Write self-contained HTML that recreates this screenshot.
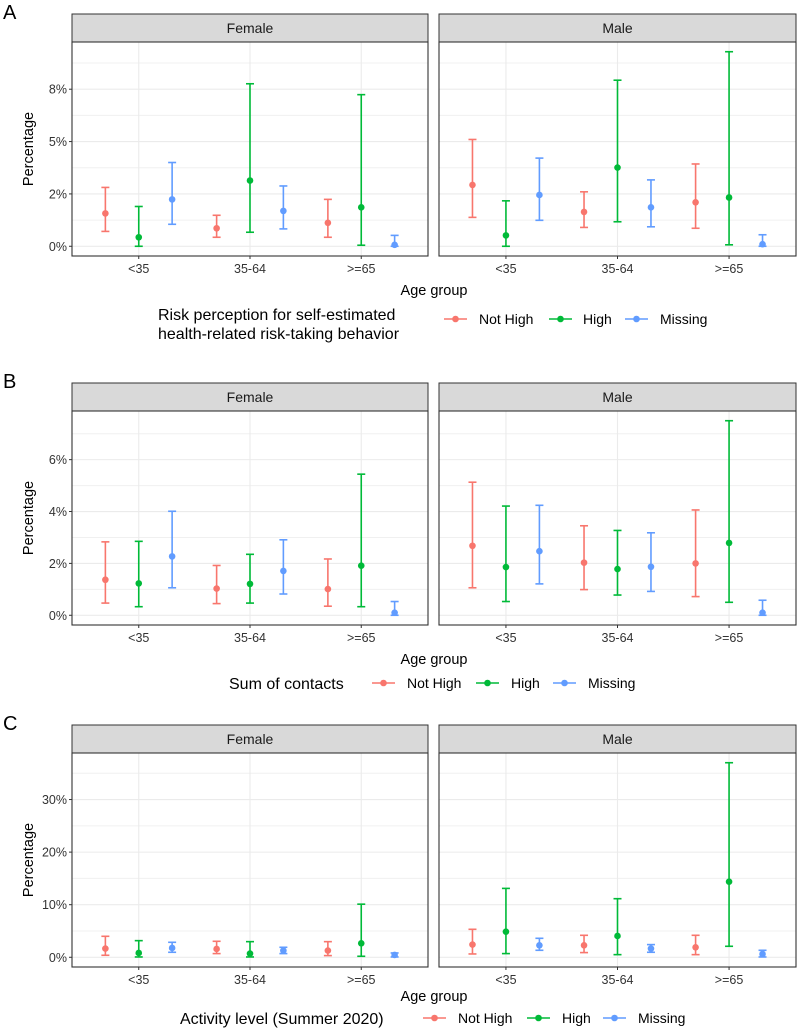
<!DOCTYPE html>
<html><head><meta charset="utf-8"><style>
html,body{margin:0;padding:0;background:#fff}
svg{display:block;font-family:"Liberation Sans",Arial,sans-serif}
</style></head><body>
<svg id="chart" width="797" height="1028" viewBox="0 0 797 1028" xmlns="http://www.w3.org/2000/svg"></svg>
<script>
const categories=["<35","35-64",">=65"];
const groups=["Not High","High","Missing"];
const colors=["#F8766D","#00BA38","#619CFF"];
// Panel A values [category][group]
const aFemalePt=[[1.57,0.43,2.24],[0.86,3.14,1.69],[1.12,1.86,0.07]];
const aFemaleLo=[[0.71,0,1.05],[0.43,0.67,0.83],[0.43,0.05,0]];
const aFemaleHi=[[2.81,1.9,4.0],[1.48,7.76,2.88],[2.24,7.24,0.52]];
const aMalePt=[[2.93,0.52,2.45],[1.64,3.76,1.86],[2.1,2.33,0.1]];
const aMaleLo=[[1.38,0,1.24],[0.9,1.17,0.93],[0.86,0.07,0]];
const aMaleHi=[[5.1,2.17,4.21],[2.6,7.93,3.17],[3.93,9.29,0.55]];
const aTicks=[0,2.5,5,7.5];
const aTickLabels=["0%","2%","5%","8%"];
// Panel B
const bFemalePt=[[1.37,1.23,2.27],[1.03,1.21,1.71],[1.01,1.91,0.1]];
const bFemaleLo=[[0.47,0.33,1.06],[0.45,0.47,0.82],[0.35,0.33,0]];
const bFemaleHi=[[2.83,2.85,4.01],[1.92,2.35,2.91],[2.17,5.44,0.53]];
const bMalePt=[[2.68,1.86,2.47],[2.03,1.78,1.87],[2.0,2.79,0.1]];
const bMaleLo=[[1.06,0.53,1.21],[0.99,0.78,0.92],[0.72,0.5,0]];
const bMaleHi=[[5.13,4.21,4.24],[3.45,3.27,3.18],[4.06,7.5,0.58]];
const bTicks=[0,2,4,6];
const bTickLabels=["0%","2%","4%","6%"];
// Panel C
const cFemalePt=[[1.65,0.82,1.77],[1.58,0.7,1.27],[1.27,2.66,0.44]];
const cFemaleLo=[[0.38,0.06,0.95],[0.7,0.06,0.7],[0.32,0.19,0.06]];
const cFemaleHi=[[3.99,3.16,2.85],[3.04,2.97,1.9],[2.97,10.1,0.82]];
const cMalePt=[[2.41,4.87,2.28],[2.28,4.05,1.65],[1.9,14.37,0.63]];
const cMaleLo=[[0.63,0.7,1.33],[0.89,0.5,0.95],[0.5,2.09,0.06]];
const cMaleHi=[[5.32,13.1,3.61],[4.18,11.14,2.41],[4.18,37.0,1.33]];
const cTicks=[0,10,20,30];
const cTickLabels=["0%","10%","20%","30%"];

const NS="http://www.w3.org/2000/svg";
const svg=document.getElementById('chart');
function mk(tag,attrs,parent,text){const e=document.createElementNS(NS,tag);for(const k in attrs)e.setAttribute(k,attrs[k]);if(text!==undefined)e.textContent=text;(parent||svg).appendChild(e);return e;}

const panels=[
 {key:"a",label:"A",top:14,f:[aFemalePt,aFemaleLo,aFemaleHi],m:[aMalePt,aMaleLo,aMaleHi],ticks:aTicks,tl:aTickLabels,
  leg:{y:319,title:["Risk perception for self-estimated","health-related risk-taking behavior"],tx:158,keys:[444,549,625],labs:[479,583,660]}},
 {key:"b",label:"B",top:383,f:[bFemalePt,bFemaleLo,bFemaleHi],m:[bMalePt,bMaleLo,bMaleHi],ticks:bTicks,tl:bTickLabels,
  leg:{y:683,title:["Sum of contacts"],tx:229,keys:[372,476,553],labs:[407,511,588]}},
 {key:"c",label:"C",top:725,f:[cFemalePt,cFemaleLo,cFemaleHi],m:[cMalePt,cMaleLo,cMaleHi],ticks:cTicks,tl:cTickLabels,
  leg:{y:1018,title:["Activity level (Summer 2020)"],tx:180,keys:[423,527,603],labs:[458,562,638]}}
];
const facets=[{name:"Female",x0:72,x1:428},{name:"Male",x0:439,x1:796}];

panels.forEach(p=>{
  const g=mk('g',{});
  
  
  const lab=mk('text',{x:3,y:p.top+5,'font-size':20,fill:'#000'},g,p.label);
  
  
  const stripTop=p.top, plotTop=p.top+28, plotBot=p.top+242;
  let maxHi=0;[p.f[2],p.m[2]].forEach(a=>a.forEach(r=>r.forEach(v=>{if(v>maxHi)maxHi=v;})));
  const ymin=-0.05*maxHi, ymax=maxHi*1.05;
  const y=v=>plotBot-(v-ymin)/(ymax-ymin)*(plotBot-plotTop);
  facets.forEach((fc,fi)=>{
    const data=fi===0?p.f:p.m;
    const w=fc.x1-fc.x0, unit=w/3.2;
    const x=i=>fc.x0+(i+1-0.4)*unit;
    const fg=mk('g',{},g);
    
    
    const st=mk('rect',{x:fc.x0,y:stripTop,width:w,height:28,fill:'#D9D9D9',stroke:'#333','stroke-width':1},fg);
    
    
    const stt=mk('text',{x:(fc.x0+fc.x1)/2,y:stripTop+19,'text-anchor':'middle','font-size':14,fill:'#1A1A1A'},fg,fc.name);
    
    
    for(let i=0;i<p.ticks.length;i++){
      const step=p.ticks[1]-p.ticks[0];const mv=p.ticks[i]+step/2;
      if(mv<ymax){const ml=mk('line',{x1:fc.x0,x2:fc.x1,y1:y(mv),y2:y(mv),stroke:'#F0F0F0','stroke-width':1},fg);
        }
    }
    p.ticks.forEach((t,ti)=>{
      const gl=mk('line',{x1:fc.x0,x2:fc.x1,y1:y(t),y2:y(t),stroke:'#EBEBEB','stroke-width':1.1},fg);
      
      if(fi===0){
        const tk=mk('line',{x1:fc.x0-3,x2:fc.x0,y1:y(t),y2:y(t),stroke:'#333','stroke-width':1},fg);
        
        const tt=mk('text',{x:fc.x0-5,y:y(t)+4.5,'text-anchor':'end','font-size':12.5,fill:'#333'},fg,p.tl[ti]);
        
      }
    });
    categories.forEach((c,ci)=>{
      const vg=mk('line',{x1:x(ci),x2:x(ci),y1:plotTop,y2:plotBot,stroke:'#EBEBEB','stroke-width':1.1},fg);
      
      const tk=mk('line',{x1:x(ci),x2:x(ci),y1:plotBot,y2:plotBot+3,stroke:'#333','stroke-width':1},fg);
      
      const tt=mk('text',{x:x(ci),y:plotBot+17,'text-anchor':'middle','font-size':12.5,fill:'#333'},fg,c);
      
      groups.forEach((gname,gi)=>{
        const cx=x(ci)+(gi-1)*unit*0.3;
        const pt=data[0][ci][gi],lo=data[1][ci][gi],hi=data[2][ci][gi];
        const eg=mk('g',{stroke:colors[gi],'stroke-width':1.6,fill:'none'},fg);
        
        
        mk('line',{x1:cx,x2:cx,y1:y(lo),y2:y(hi)},eg);
        mk('line',{x1:cx-4,x2:cx+4,y1:y(lo),y2:y(lo)},eg);
        mk('line',{x1:cx-4,x2:cx+4,y1:y(hi),y2:y(hi)},eg);
        const pc=mk('circle',{cx:cx,cy:y(pt),r:3.3,fill:colors[gi]},fg);
        
        
      });
    });
    const br=mk('rect',{x:fc.x0,y:plotTop,width:w,height:plotBot-plotTop,fill:'none',stroke:'#333','stroke-width':1.1},fg);
    
  });
  const yt=mk('text',{x:0,y:0,transform:`translate(33,${(plotTop+plotBot)/2}) rotate(-90)`,'text-anchor':'middle','font-size':14.5,fill:'#000'},g,'Percentage');
  
  const xt=mk('text',{x:434,y:plotBot+(p.key==='c'?34:39),'text-anchor':'middle','font-size':14.5,fill:'#000'},g,'Age group');
  
  const lg=mk('g',{},g);
  
  const L=p.leg;
  L.title.forEach((line,li)=>{
    const ty=L.title.length===1?L.y+6:L.y+1+li*19;
    const t=mk('text',{x:L.tx,y:ty,'font-size':16,fill:'#000'},lg,line);
    
  });
  groups.forEach((gname,gi)=>{
    const eg=mk('g',{},lg);
    
    
    mk('line',{x1:L.keys[gi],x2:L.keys[gi]+23,y1:L.y,y2:L.y,stroke:colors[gi],'stroke-width':1.6},eg);
    mk('circle',{cx:L.keys[gi]+11.5,cy:L.y,r:3.3,fill:colors[gi]},eg);
    mk('text',{x:L.labs[gi],y:L.y+5,'font-size':14,fill:'#000'},eg,gname);
  });
});
</script>
</body></html>
